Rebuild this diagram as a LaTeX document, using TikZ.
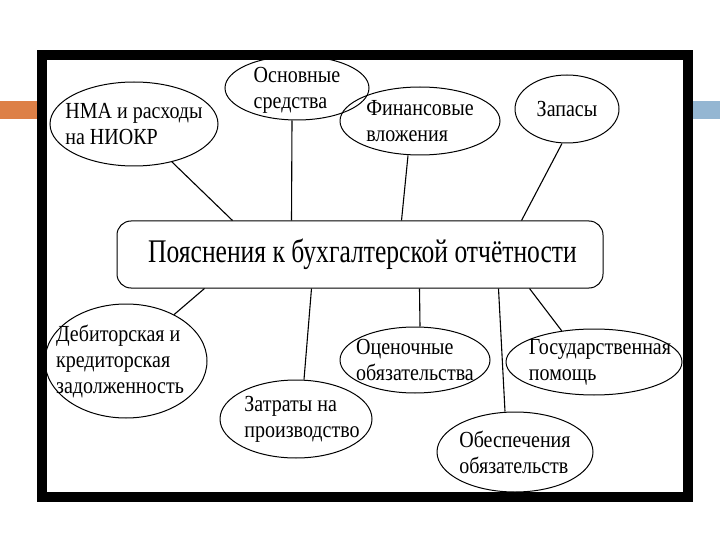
\documentclass[tikz,border=0pt]{standalone}
\usepackage{fontspec}
\setmainfont{Liberation Serif}
\newfontfamily\bubblefont{Liberation Serif}[FakeStretch=0.87]
\newfontfamily\pillfont{Liberation Serif}[FakeStretch=0.775]
\usetikzlibrary{shapes.geometric}
\definecolor{barorange}{HTML}{DD8047}
\definecolor{barblue}{HTML}{94B6D2}
\begin{document}
\begin{tikzpicture}[x=1pt,y=-1pt,
	oval/.style={draw, ellipse, line width=1pt, inner sep=0pt},
	lbl/.style={align=left, inner sep=0pt, font=\bubblefont\fontsize{23}{26}\selectfont},
	pill/.style={draw, rounded corners=14pt, line width=1pt, minimum width=486pt, minimum height=67pt, font=\pillfont\fontsize{33}{38}\selectfont},
	link/.style={line width=1.1pt}
	]
	\useasboundingbox (0,0) rectangle (720,540);
	% side bars and frame
	\fill[barorange] (0,101) rectangle (40,119);
	\fill[barblue] (690,101) rectangle (720,119);
	\draw[line width=9.5pt] (42,55) rectangle (688,497);

	\node[pill] (main) at (360,254.5) {\hspace{5pt}\raisebox{-3pt}{Пояснения к бухгалтерской отчётности}};

	\node[oval, minimum width=168pt, minimum height=84pt, label={[lbl]center:{НМА и расходы\\на НИОКР}}] (nma) at (134,124) {};
	\node[oval, minimum width=144pt, minimum height=64pt, label={[lbl, yshift=-2pt]center:{Основные\\средства}}] (osn) at (297,88) {};
	\node[oval, minimum width=160pt, minimum height=68pt, label={[lbl]center:{Финансовые\\вложения}}] (fin) at (420,121) {};
	\node[oval, minimum width=104pt, minimum height=68pt, label={[lbl]center:{Запасы}}] (zap) at (567,109) {};

	\node[oval, minimum width=162pt, minimum height=114pt, label={[lbl, xshift=-6pt]center:{Дебиторская и\\кредиторская\\задолженность}}] (deb) at (126,361) {};
	\node[oval, minimum width=152pt, minimum height=78pt, label={[lbl, xshift=6pt]center:{Затраты на\\производство}}] (zat) at (296,419) {};
	\node[oval, minimum width=150pt, minimum height=66pt, label={[lbl]center:{Оценочные\\обязательства}}] (ots) at (415,360) {};
	\node[oval, minimum width=176pt, minimum height=66pt, label={[lbl, xshift=6pt]center:{Государственная\\помощь}}] (gos) at (594,362) {};
	\node[oval, minimum width=156pt, minimum height=80pt, label={[lbl]center:{Обеспечения\\обязательств}}] (obe) at (515,452) {};

	% connectors
	\draw[link] (nma.-45) -- ([xshift=116pt]main.north west);
	\draw[link] ([xshift=-5pt]osn.south) -- ([xshift=175pt]main.north west);
	\draw[link] ([xshift=-12pt]fin.south) -- ([xshift=285pt]main.north west);
	\draw[link] ([xshift=-5pt]zap.south) -- ([xshift=405pt]main.north west);
	\draw[link] (deb.44) -- ([xshift=88pt]main.south west);
	\draw[link] ([xshift=8pt]zat.north) -- ([xshift=195pt]main.south west);
	\draw[link] ([xshift=5pt]ots.north) -- ([xshift=303pt]main.south west);
	\draw[link] ([xshift=-10pt]obe.north) -- ([xshift=382pt]main.south west);
	\draw[link] (gos.136) -- ([xshift=413pt]main.south west);
\end{tikzpicture}
\end{document}
